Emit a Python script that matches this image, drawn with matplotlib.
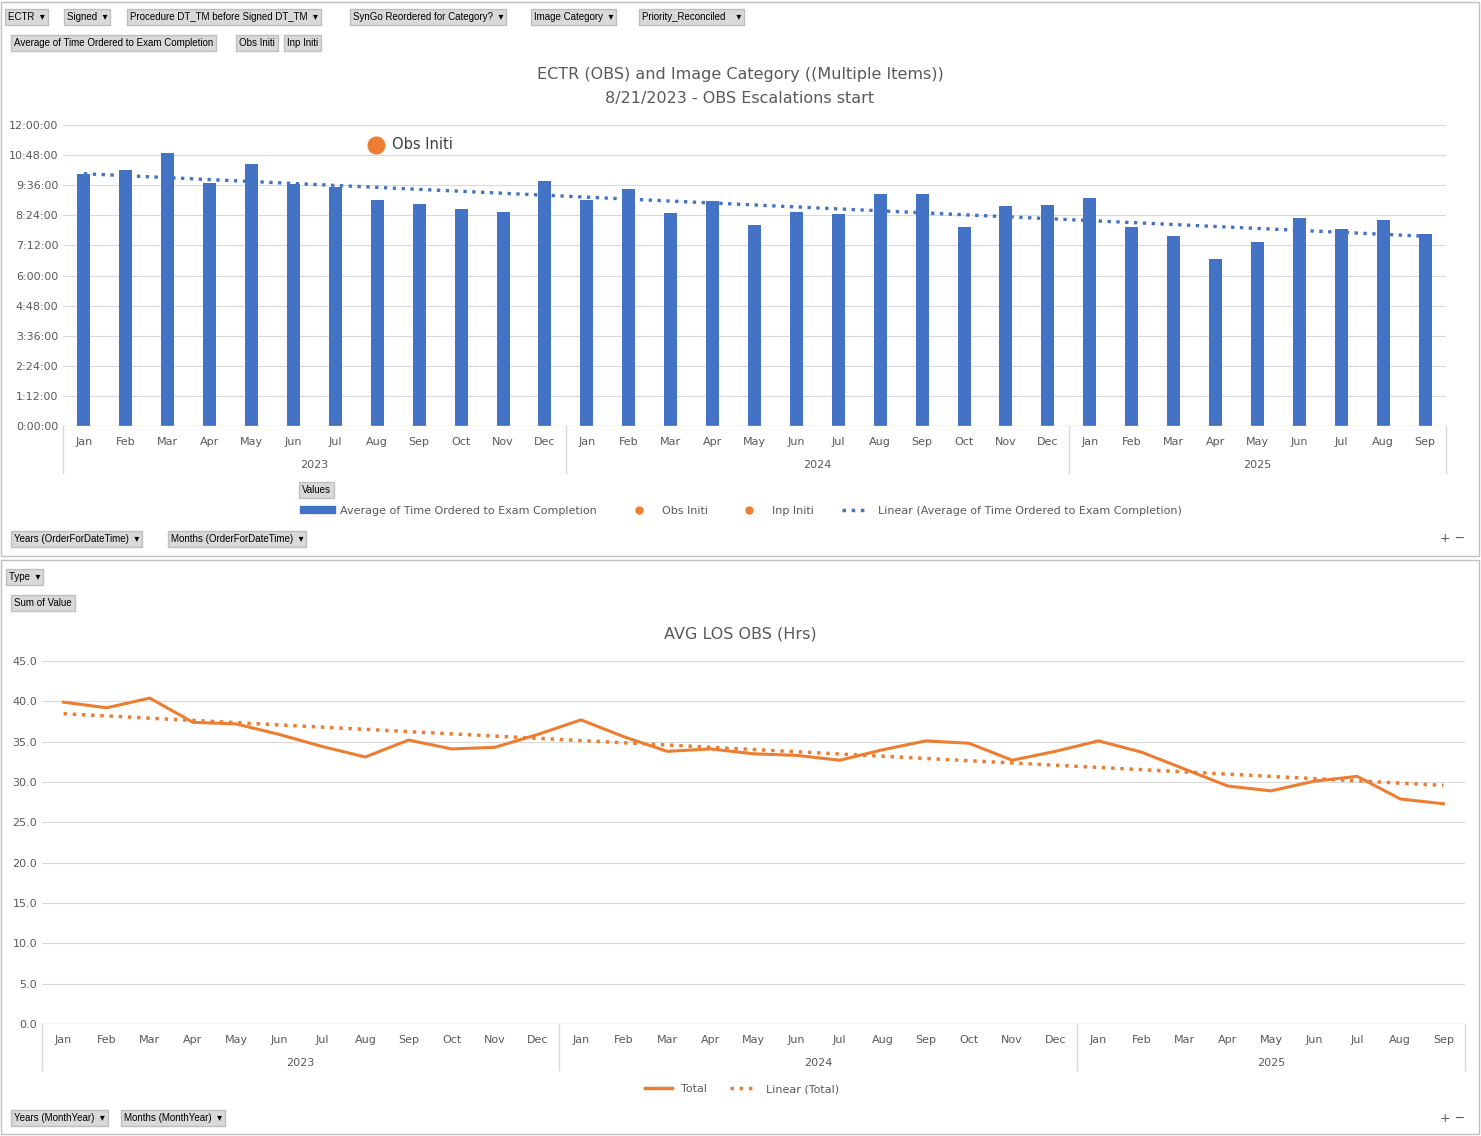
import matplotlib
matplotlib.use("Agg")
import matplotlib.pyplot as plt
import numpy as np
from matplotlib.patches import Rectangle
from matplotlib.lines import Line2D

months = ["Jan","Feb","Mar","Apr","May","Jun","Jul","Aug","Sep","Oct","Nov","Dec"]
years = ["2023", "2024", "2025"]
months_per_year = [12, 12, 9]
ectr_hours = [10.05,10.2,10.88,9.69,10.45,9.65,9.53,9.01,8.85,8.65,8.53,9.77,
              9.01,9.45,8.49,8.97,8.01,8.53,8.45,9.25,9.25,7.93,8.77,8.81,
              9.09,7.93,7.58,6.66,7.34,8.29,7.85,8.21,7.66]
los_hours = [39.9,39.2,40.4,37.4,37.2,35.9,34.4,33.1,35.2,34.1,34.3,35.9,
             37.7,35.6,33.8,34.1,33.5,33.3,32.7,34.0,35.1,34.8,32.7,33.8,
             35.1,33.7,31.6,29.5,28.9,30.1,30.7,27.9,27.3]

W, H = 1481, 1136
fig = plt.figure(figsize=(W/100, H/100), dpi=100)
plt.rcParams['font.family'] = ['DejaVu Sans']
BLUE = "#4472C4"; ORANGE = "#ED7D31"; GRID = "#D9D9D9"; TXT = "#595959"

def fx(x): return x / W
def fy(y): return 1 - y / H
def ax_rect(x0, y0, x1, y1):
    return [fx(x0), fy(y1), fx(x1) - fx(x0), fy(y0) - fy(y1)]

for (y0, y1) in [(2, 556), (560, 1134)]:
    fig.patches.append(Rectangle((fx(1), fy(y1)), fx(1478), fy(y0)-fy(y1),
                                 transform=fig.transFigure, fill=False, ec="#BFBFBF", lw=1))

def button(x, y, text):
    fig.text(fx(x), fy(y), text, fontsize=7, va="center", ha="left",
             family=["Liberation Sans Narrow", "Liberation Sans", "DejaVu Sans"],
             bbox=dict(boxstyle="square,pad=0.3", fc="#D9D9D9", ec="#BFBFBF"))

for x, t in [(8,"ECTR  ▾"),(67,"Signed  ▾"),(130,"Procedure DT_TM before Signed DT_TM  ▾"),
             (353,"SynGo Reordered for Category?  ▾"),(534,"Image Category  ▾"),(642,"Priority_Reconciled    ▾")]:
    button(x, 17, t)
for x, t in [(14,"Average of Time Ordered to Exam Completion"),(239,"Obs Initi"),(287,"Inp Initi")]:
    button(x, 43, t)
button(302, 490, "Values")
button(14, 539, "Years (OrderForDateTime)  ▾"); button(171, 539, "Months (OrderForDateTime)  ▾")
button(9, 577, "Type  ▾"); button(14, 603, "Sum of Value")
button(14, 1118, "Years (MonthYear)  ▾"); button(124, 1118, "Months (MonthYear)  ▾")
for y in (539, 1118):
    fig.text(fx(1440), fy(y), "+ −", fontsize=9, va="center", color=TXT)

n = len(ectr_hours)
x = np.arange(n)
month_labels = [months[i % 12] for i in range(n)]

def multilevel(ax, ytext_y, ysep):
    ax.set_xticks(x)
    ax.set_xticklabels(month_labels, fontsize=8, color=TXT)
    ax.tick_params(axis="x", length=0, pad=8)
    start = -0.5
    for yr, cnt in zip(years, months_per_year):
        ax.text(start + cnt/2, ytext_y, yr, transform=ax.get_xaxis_transform(),
                ha="center", va="center", fontsize=8, color=TXT)
        ax.plot([start, start], [0, ysep], transform=ax.get_xaxis_transform(),
                color=GRID, lw=1, clip_on=False)
        start += cnt
    ax.plot([start, start], [0, ysep], transform=ax.get_xaxis_transform(),
            color=GRID, lw=1, clip_on=False)

ax1 = fig.add_axes(ax_rect(63, 125, 1446, 426))
ax1.bar(x, ectr_hours, width=0.31, color=BLUE)
c = np.polyfit(x, ectr_hours, 1)
ax1.plot(x, np.polyval(c, x), ":", color=BLUE, lw=2.4)
ax1.set_xlim(-0.5, n - 0.5); ax1.set_ylim(0, 12)
yt = np.arange(0, 12.01, 1.2)
ax1.set_yticks(yt)
ax1.set_yticklabels([f"{int(round(v*60))//60}:{int(round(v*60))%60:02d}:00" for v in yt], fontsize=8, color=TXT)
ax1.tick_params(axis="y", length=0)
ax1.grid(axis="y", color=GRID); ax1.set_axisbelow(True)
for s in ax1.spines.values(): s.set_visible(False)
ax1.axhline(0, color=GRID, lw=1)
multilevel(ax1, -0.13, -0.155)
fig.text(fx(740), fy(75), "ECTR (OBS) and Image Category ((Multiple Items))", ha="center", va="center", fontsize=11.5, color=TXT)
fig.text(fx(740), fy(98), "8/21/2023 - OBS Escalations start", ha="center", va="center", fontsize=11.5, color=TXT)
ax1.plot([0.226], [0.935], "o", ms=12, color=ORANGE, transform=ax1.transAxes)
ax1.text(0.238, 0.935, "Obs Initi", transform=ax1.transAxes, va="center", fontsize=10.5, color="#404040")
handles = [Line2D([], [], color=BLUE, lw=6),
           Line2D([], [], color=ORANGE, marker="o", ls="", ms=5),
           Line2D([], [], color=ORANGE, marker="o", ls="", ms=5),
           Line2D([], [], color=BLUE, ls=":", lw=2.5)]
fig.legend(handles, ["Average of Time Ordered to Exam Completion", "Obs Initi", "Inp Initi",
                     "Linear (Average of Time Ordered to Exam Completion)"],
           loc="center", bbox_to_anchor=(fx(743), fy(511)), ncol=4, frameon=False,
           fontsize=8, labelcolor=TXT, columnspacing=2.5, handlelength=2.5)

ax2 = fig.add_axes(ax_rect(42, 661, 1465, 1024))
ax2.plot(x, los_hours, color=ORANGE, lw=2.2)
c2 = np.polyfit(x, los_hours, 1)
ax2.plot(x, np.polyval(c2, x), ":", color=ORANGE, lw=2.5)
ax2.set_xlim(-0.5, n - 0.5); ax2.set_ylim(0, 45)
ax2.set_yticks(np.arange(0, 45.1, 5))
ax2.set_yticklabels([f"{v:.1f}" for v in np.arange(0, 45.1, 5)], fontsize=8, color=TXT)
ax2.tick_params(axis="y", length=0)
ax2.grid(axis="y", color=GRID); ax2.set_axisbelow(True)
for s in ax2.spines.values(): s.set_visible(False)
ax2.axhline(0, color=GRID, lw=1)
multilevel(ax2, -0.107, -0.128)
fig.text(fx(740), fy(634), "AVG LOS OBS (Hrs)", ha="center", va="center", fontsize=11.5, color=TXT)
h2 = [Line2D([], [], color=ORANGE, lw=2.5), Line2D([], [], color=ORANGE, ls=":", lw=2.5)]
fig.legend(h2, ["Total", "Linear (Total)"], loc="center", bbox_to_anchor=(fx(742), fy(1089)),
           ncol=2, frameon=False, fontsize=8, labelcolor=TXT, handlelength=2.5)

fig.savefig("out.png", dpi=100, facecolor="white")
